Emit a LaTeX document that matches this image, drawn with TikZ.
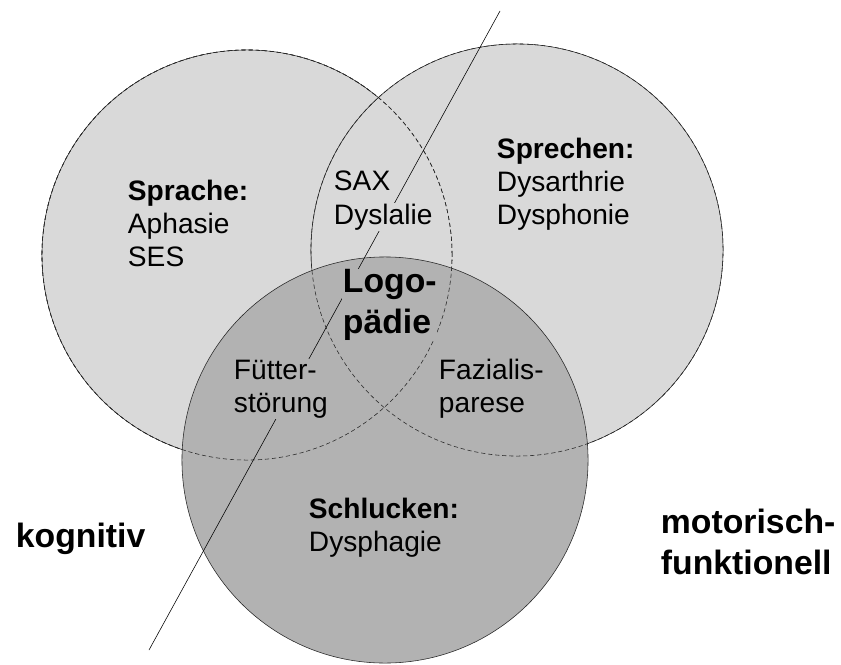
\documentclass[tikz,border=0pt]{standalone}
\usepackage{fontspec}
\setmainfont{Liberation Sans}
\definecolor{circlelight}{gray}{0.85}
\definecolor{circledark}{gray}{0.70}
\tikzstyle{zone}=[draw=black!85,thin]
\tikzstyle{hiddenedge}=[draw=black!85,thin,dash pattern=on 3pt off 2pt]
\tikzstyle{txt}=[align=left,anchor=west,inner sep=0.5pt,font=\fontsize{20}{23.5}\selectfont]
\tikzstyle{bigtxt}=[align=left,anchor=west,inner sep=0.5pt,font=\fontsize{24}{29}\selectfont\bfseries]

\begin{document}
\begin{tikzpicture}[x=0.025cm,y=-0.025cm]
	\useasboundingbox (0,0) rectangle (841,664);
	\coordinate (csprache) at (247,255);
	\coordinate (csprechen) at (517,250);
	\coordinate (cschlucken) at (385,460);

	% Sprache und Sprechen, die verdeckten Kanten gestrichelt
	\path[zone,fill=circlelight] (csprache) circle[radius=5.125cm];
	\path[zone,fill=circlelight] (csprechen) circle[radius=5.15cm];
	\path[hiddenedge] (csprache) circle[radius=5.125cm];

	% Schlucken liegt oben
	\path[zone,fill=circledark] (cschlucken) circle[radius=5.075cm];
	\path[hiddenedge] (csprache) circle[radius=5.125cm];
	\path[hiddenedge] (csprechen) circle[radius=5.15cm];

	% Trennlinie kognitiv / motorisch
	\coordinate (linetop) at (500,11);
	\coordinate (linebottom) at (149,650);
	\draw[thin] (linetop) -- (linebottom);

	\node[txt] (sprache) at (127,223) {\textbf{Sprache:}\\Aphasie\\SES};
	\node[txt] (sprechen) at (496,184) {\textbf{Sprechen:}\\Dysarthrie\\Dysphonie};
	\node[txt,anchor=base west] (sax) at (333,190) {SAX};
	\node[txt,anchor=base west,fill=circlelight] (dyslalie) at (333,224) {Dyslalie};
	\node[bigtxt,fill=circledark] (logo) at (342,305) {Logo-\\pädie};
	\node[txt,fill=circledark] (fuetter) at (233,389) {Fütter-\\störung};
	\node[txt,fill=circledark] (fazialis) at (438,389) {Fazialis-\\parese};
	\node[txt] (schlucken) at (308,528) {\textbf{Schlucken:}\\Dysphagie};

	\node[bigtxt,anchor=base west] (kognitiv) at (15,547) {kognitiv};
	\node[bigtxt] (motorisch) at (660,542) {motorisch-\\funktionell};
\end{tikzpicture}
\end{document}
